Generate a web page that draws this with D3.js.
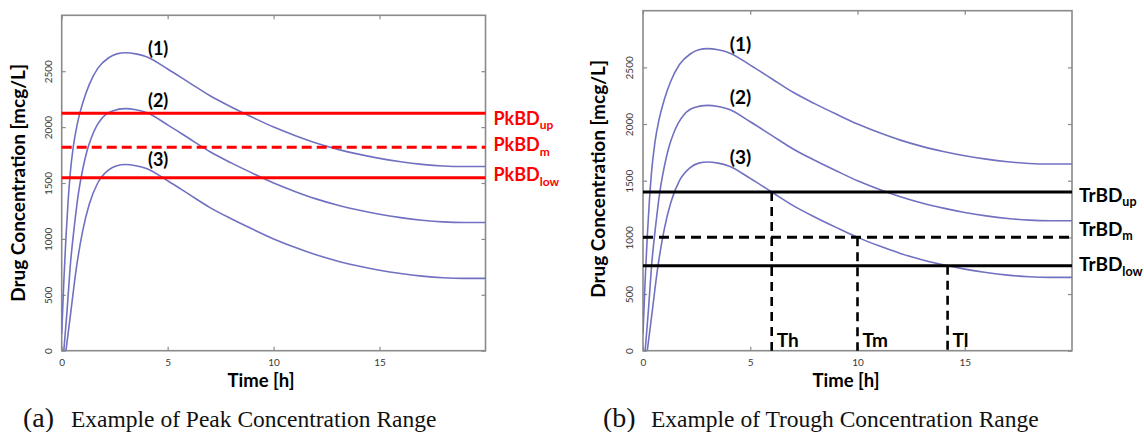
<!DOCTYPE html>
<html>
<head>
<meta charset="utf-8">
<script src="https://cdn.jsdelivr.net/npm/d3@7"></script>
<style>
  html, body { margin: 0; padding: 0; background: #fff; }
  svg { display: block; }
</style>
</head>
<body>
<svg id="chart" width="1144" height="432"></svg>
<script>
// Concentration-time profiles of three dosing regimens (hours, mcg/L)
const time1 = [0, 0.1, 0.2, 0.3, 0.4, 0.55, 0.75, 1.0, 1.3, 1.7, 2.2, 2.6, 3.0, 3.5, 4, 5, 6, 7, 8, 9, 10, 11, 12, 13, 14, 15, 16, 17, 18, 19, 20];
const conc1 = [150, 620, 1010, 1330, 1580, 1830, 2040, 2220, 2380, 2525, 2618, 2655, 2665, 2655, 2630, 2520, 2400, 2280, 2180, 2088, 2000, 1925, 1858, 1803, 1758, 1720, 1690, 1667, 1652, 1647, 1647];

const time2 = [0.1, 0.25, 0.4, 0.6, 0.8, 1.0, 1.2, 1.4, 1.65, 1.9, 2.4, 3.0, 3.5, 4, 5, 6, 7, 8, 9, 10, 11, 12, 13, 14, 15, 16, 17, 18, 19, 20];
const conc2 = [0, 350, 750, 1120, 1420, 1630, 1790, 1905, 2010, 2080, 2145, 2165, 2155, 2130, 2020, 1900, 1780, 1680, 1588, 1500, 1425, 1358, 1303, 1258, 1220, 1190, 1167, 1152, 1147, 1147];

const time3 = [0.2, 0.4, 0.7, 1.0, 1.3, 1.7, 2.2, 2.6, 3.0, 3.5, 4, 5, 6, 7, 8, 9, 10, 11, 12, 13, 14, 15, 16, 17, 18, 19, 20];
const conc3 = [0, 300, 750, 1080, 1310, 1500, 1615, 1655, 1665, 1655, 1630, 1520, 1400, 1280, 1180, 1088, 1000, 925, 858, 803, 758, 720, 690, 667, 652, 647, 647];

const curveNames = ["(1)", "(2)", "(3)"];
const curveLabelTime = 4.55;
const curveLabelConc = [2700, 2235, 1705];

const xTicks = [0, 5, 10, 15];
const yTicks = [0, 500, 1000, 1500, 2000, 2500];

// Peak band limits (panel a)
const peakLevels = [2125, 1820, 1548];
const peakSubs = ["up", "m", "low"];
const peakDashed = [false, true, false];

// Trough band limits and the times regimen (3) reaches them (panel b)
const troughLevels = [1400, 1000, 750];
const troughSubs = ["up", "m", "low"];
const troughDashed = [false, true, false];
const crossTimes = [6, 10, 14.2];
const crossNames = ["Th", "Tm", "Tl"];

const SANS = "Lato, 'Open Sans', sans-serif";
const SERIF = "'Liberation Serif', 'Times New Roman', serif";
const CURVE_COLOR = "#7171c2";
const FRAME_COLOR = "#8a8a8a";

const svg = d3.select("#chart");
const series = [
  d3.zip(time1, conc1),
  d3.zip(time2, conc2),
  d3.zip(time3, conc3)
];
const plain = d3.format("d");

function drawPanel(cfg) {
  const x = d3.scaleLinear().domain([0, 20]).range([cfg.left, cfg.right]);
  const y = d3.scaleLinear().domain([0, 3000]).range([cfg.bottom, cfg.top]);
  const g = svg.append("g");

  const clipId = "clip-" + cfg.id;
  g.append("clipPath").attr("id", clipId)
    .append("rect")
    .attr("x", cfg.left).attr("y", cfg.top)
    .attr("width", cfg.right - cfg.left).attr("height", cfg.bottom - cfg.top);

  // axes with inward ticks
  const styleAxis = sel => {
    sel.select(".domain").remove();
    sel.selectAll(".tick line").attr("stroke", FRAME_COLOR).attr("stroke-width", 1.2);
    sel.selectAll(".tick text").attr("fill", "#3a3a3a")
      .style("font-family", SANS).style("font-size", "10px");
  };
  g.append("g").attr("transform", `translate(0,${cfg.bottom})`)
    .call(d3.axisBottom(x).tickValues(xTicks).tickFormat(plain).tickSize(-4).tickSizeOuter(0).tickPadding(8.5))
    .call(styleAxis);
  g.append("g").attr("transform", `translate(0,${cfg.top})`)
    .call(d3.axisTop(x).tickValues(xTicks).tickSize(-4).tickSizeOuter(0).tickFormat(""))
    .call(styleAxis);
  g.append("g").attr("transform", `translate(${cfg.left},0)`)
    .call(d3.axisLeft(y).tickValues(yTicks).tickFormat(plain).tickSize(-4).tickSizeOuter(0))
    .call(styleAxis)
    .call(a => a.selectAll(".tick text")
      .attr("transform", "rotate(-90)")
      .attr("x", 0).attr("y", -10).attr("dy", null)
      .attr("text-anchor", "middle"));
  g.append("g").attr("transform", `translate(${cfg.right},0)`)
    .call(d3.axisRight(y).tickValues(yTicks).tickSize(-4).tickSizeOuter(0).tickFormat(""))
    .call(styleAxis);

  // plot frame
  g.append("rect")
    .attr("x", cfg.left).attr("y", cfg.top)
    .attr("width", cfg.right - cfg.left).attr("height", cfg.bottom - cfg.top)
    .attr("fill", "none").attr("stroke", FRAME_COLOR).attr("stroke-width", 1.6);

  // concentration curves
  const line = d3.line().x(d => x(d[0])).y(d => y(d[1])).curve(d3.curveMonotoneX);
  g.append("g").attr("clip-path", `url(#${clipId})`)
    .selectAll("path").data(series).join("path")
    .attr("d", line)
    .attr("fill", "none")
    .attr("stroke", CURVE_COLOR)
    .attr("stroke-width", 1.6);

  g.selectAll(".curve-label").data(curveNames).join("text")
    .attr("class", "curve-label")
    .attr("x", x(curveLabelTime))
    .attr("y", (d, i) => y(curveLabelConc[i]))
    .attr("dy", "0.35em")
    .attr("text-anchor", "middle")
    .style("font-family", SANS).style("font-weight", 700)
    .style("font-size", cfg.labelSize + "px")
    .text(d => d);

  // axis titles
  g.append("text")
    .attr("transform", `translate(${cfg.yTitleX},${cfg.yTitleY}) rotate(-90)`)
    .attr("text-anchor", "middle")
    .style("font-family", SANS).style("font-weight", 700).style("font-size", "19px")
    .text("Drug Concentration [mcg/L]");
  g.append("text")
    .attr("x", cfg.xTitleX).attr("y", 386.5)
    .attr("text-anchor", "middle")
    .style("font-family", SANS).style("font-weight", 700).style("font-size", "18.5px")
    .text("Time [h]");

  // caption
  const cap = g.append("text").attr("y", 427).style("font-family", SERIF).attr("fill", "#111");
  cap.append("tspan").attr("x", cfg.capX).style("font-size", "28px").text(cfg.capTag);
  cap.append("tspan").attr("x", cfg.capX + 48).style("font-size", "23.5px").text(cfg.capText);

  return { g, x, y };
}

// (a) peak concentration range
const A = drawPanel({
  id: "a", left: 61.7, right: 485.5, top: 15.3, bottom: 350.7,
  labelSize: 18, yTitleX: 25, yTitleY: 183, xTitleX: 261,
  capX: 23, capTag: "(a)", capText: "Example of Peak Concentration Range"
});

const peakLabelDy = [11.5, 4, 3.5];
A.g.selectAll(".band").data(peakLevels).join("line")
  .attr("class", "band")
  .attr("x1", A.x(0)).attr("x2", A.x(20))
  .attr("y1", d => A.y(d)).attr("y2", d => A.y(d))
  .attr("stroke", "#ff0000").attr("stroke-width", 3)
  .attr("stroke-dasharray", (d, i) => peakDashed[i] ? "10,5" : null);

A.g.selectAll(".band-label").data(peakLevels).join("text")
  .attr("class", "band-label")
  .attr("x", A.x(20) + 8)
  .attr("y", (d, i) => A.y(d) + peakLabelDy[i])
  .attr("fill", "#ff0000")
  .style("font-family", SANS).style("font-weight", 700).style("font-size", "18px")
  .each(function (d, i) {
    const t = d3.select(this);
    t.append("tspan").text("PkBD");
    t.append("tspan").attr("dy", 4.5).style("font-size", "12px").text(peakSubs[i]);
  });

// (b) trough concentration range
const B = drawPanel({
  id: "b", left: 643, right: 1072, top: 10.7, bottom: 350.7,
  labelSize: 19, yTitleX: 605, yTitleY: 179, xTitleX: 846,
  capX: 603, capTag: "(b)", capText: "Example of Trough Concentration Range"
});

const troughLabelDy = [9.5, -1.5, 5.5];
B.g.selectAll(".band").data(troughLevels).join("line")
  .attr("class", "band")
  .attr("x1", B.x(0)).attr("x2", B.x(20))
  .attr("y1", d => B.y(d)).attr("y2", d => B.y(d))
  .attr("stroke", "#000").attr("stroke-width", 3)
  .attr("stroke-dasharray", (d, i) => troughDashed[i] ? "10,6" : null);

B.g.selectAll(".cross").data(crossTimes).join("line")
  .attr("class", "cross")
  .attr("x1", d => B.x(d)).attr("x2", d => B.x(d))
  .attr("y1", (d, i) => B.y(troughLevels[i])).attr("y2", B.y(0))
  .attr("stroke", "#000").attr("stroke-width", 2.6)
  .attr("stroke-dasharray", "9,6");

B.g.selectAll(".cross-label").data(crossTimes).join("text")
  .attr("class", "cross-label")
  .attr("x", d => B.x(d) + 5)
  .attr("y", B.y(0) - 4)
  .style("font-family", SANS).style("font-weight", 700).style("font-size", "19px")
  .text((d, i) => crossNames[i]);

B.g.selectAll(".band-label").data(troughLevels).join("text")
  .attr("class", "band-label")
  .attr("x", B.x(20) + 7)
  .attr("y", (d, i) => B.y(d) + troughLabelDy[i])
  .attr("fill", "#000")
  .style("font-family", SANS).style("font-weight", 700).style("font-size", "19px")
  .each(function (d, i) {
    const t = d3.select(this);
    t.append("tspan").text("TrBD");
    t.append("tspan").attr("dy", 4.5).style("font-size", "12.5px").text(troughSubs[i]);
  });
</script>
</body>
</html>
